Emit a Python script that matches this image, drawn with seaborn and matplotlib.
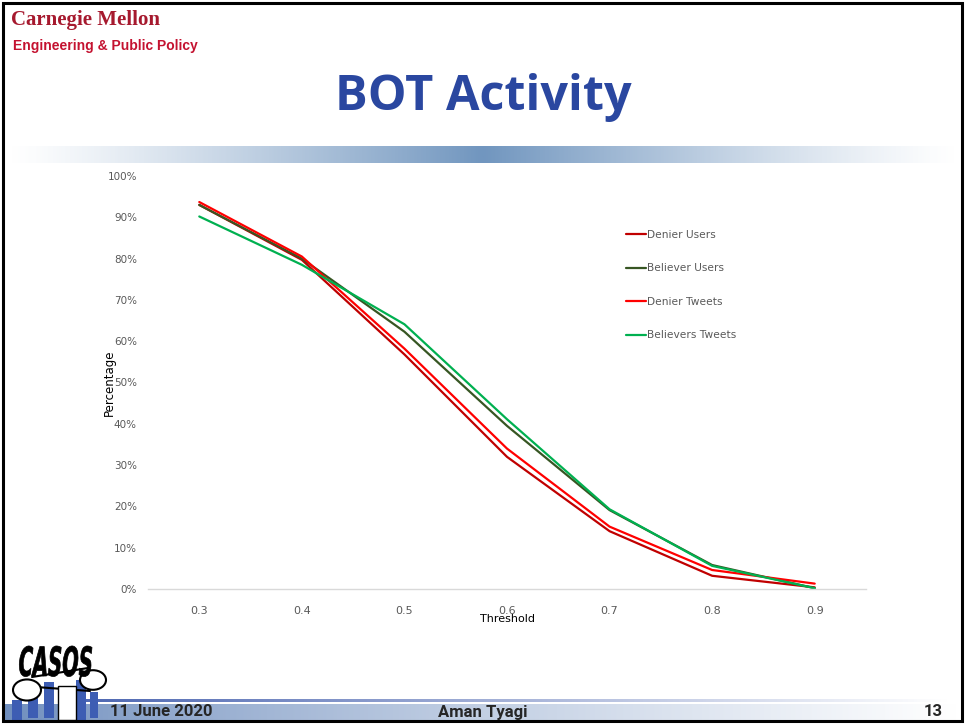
import numpy as np
import pandas as pd

import matplotlib
matplotlib.use("Agg")
import matplotlib.pyplot as plt
import seaborn as sns
from matplotlib.colors import LinearSegmentedColormap
from matplotlib.lines import Line2D
from matplotlib.patches import Rectangle, Circle, PathPatch
from matplotlib.textpath import TextPath
from matplotlib.font_manager import FontProperties
from matplotlib.transforms import Affine2D


# =========================
# DATA
# =========================

thresholds = ["0.3", "0.4", "0.5", "0.6", "0.7", "0.8", "0.9"]

denier_users = [0.930, 0.797, 0.568, 0.320, 0.140, 0.032, 0.004]
believer_users = [0.930, 0.800, 0.623, 0.395, 0.191, 0.058, 0.002]
denier_tweets = [0.937, 0.805, 0.582, 0.340, 0.151, 0.046, 0.013]
believers_tweets = [0.902, 0.785, 0.641, 0.411, 0.193, 0.056, 0.002]

series_names = ["Denier Users", "Believer Users", "Denier Tweets", "Believers Tweets"]
series_colors = ["#C00000", "#375623", "#FF0000", "#00B050"]

y_ticks = [0.0, 0.1, 0.2, 0.3, 0.4, 0.5, 0.6, 0.7, 0.8, 0.9, 1.0]
y_tick_labels = ["0%", "10%", "20%", "30%", "40%", "50%", "60%", "70%", "80%", "90%", "100%"]

df = pd.DataFrame({
    "Threshold": thresholds * 4,
    "Percentage": denier_users + believer_users + denier_tweets + believers_tweets,
    "Series": sum([[n] * len(thresholds) for n in series_names], []),
})


# =========================
# FIGURE / SLIDE
# =========================

sns.set_style("white")
plt.rcParams["font.family"] = ["DejaVu Sans"]

W, H = 965, 727
fig = plt.figure(figsize=(W / 100, H / 100), dpi=100)


def fx(px):
    return px / W


def fy(py):
    return 1 - py / H


# slide frame
fig.patches.append(Rectangle((fx(3), fy(721)), fx(959), 718 / H,
                             transform=fig.transFigure, fill=False,
                             edgecolor="black", linewidth=2.2, zorder=10))

# header
fig.text(fx(11), fy(20), "Carnegie Mellon", family="Liberation Serif",
         fontsize=15, fontweight="bold", color="#A6192E", va="center")
fig.text(fx(13), fy(46), "Engineering & Public Policy", family="Liberation Sans",
         fontsize=10, fontweight="bold", color="#C41230", va="center")
fig.text(fx(483), fy(97), "BOT Activity", family="Open Sans", fontsize=35,
         fontweight="bold", color="#2A47A0", ha="center", va="center")

# gradient band under title
band_cmap = LinearSegmentedColormap.from_list("band", ["#FFFFFF", "#7196BF"])
band = 1 - np.abs(np.linspace(-1, 1, 400))
ax_band = fig.add_axes([fx(8), fy(163), fx(950), 17 / H])
ax_band.imshow(band[np.newaxis, :] ** 1.2, aspect="auto", cmap=band_cmap, vmin=0, vmax=1)
ax_band.axis("off")

# footer bar
foot_cmap = LinearSegmentedColormap.from_list("foot", ["#6F8EBE", "#FFFFFF"])
ax_line = fig.add_axes([fx(60), fy(702), fx(890), 3 / H])
ax_line.imshow(np.linspace(0, 1, 400)[np.newaxis, :], aspect="auto",
               cmap=LinearSegmentedColormap.from_list("fl", ["#4A64B0", "#FFFFFF"]))
ax_line.axis("off")
ax_foot = fig.add_axes([fx(5), fy(720), fx(955), 16 / H])
ax_foot.imshow(np.linspace(0, 1, 400)[np.newaxis, :] ** 0.8, aspect="auto", cmap=foot_cmap)
ax_foot.axis("off")

fig.text(fx(110), fy(712), "11 June 2020", family="Roboto",
         fontsize=12, fontweight="bold", va="center")
fig.text(fx(483), fy(712), "Aman Tyagi", family="Roboto",
         fontsize=12, fontweight="bold", ha="center", va="center")
fig.text(fx(943), fy(712), "13", family="Roboto",
         fontsize=12, fontweight="bold", ha="right", va="center")

# CASOS logo (rough): tall condensed lettering
casos = TextPath((0, 0), "CASOS", size=22,
                 prop=FontProperties(family="DejaVu Sans", weight="bold"))
casos_tf = Affine2D().scale(0.89, 1.84).skew_deg(6, 0).translate(17, H - 676)
fig.patches.append(PathPatch(casos, transform=casos_tf, facecolor="black",
                             edgecolor="black", linewidth=0.5, zorder=8))
for (x0, y0, w, h) in [(12, 700, 10, 20), (28, 688, 10, 30), (44, 682, 10, 36),
                       (60, 690, 10, 28), (76, 680, 10, 40), (90, 692, 8, 26)]:
    fig.patches.append(Rectangle((fx(x0), fy(y0 + h)), fx(w), h / H,
                                 transform=fig.transFigure, facecolor="#3D5DB3",
                                 edgecolor="none", zorder=5))
fig.patches.append(Rectangle((fx(58), fy(720)), fx(18), 34 / H, transform=fig.transFigure,
                             facecolor="white", edgecolor="black", linewidth=1, zorder=6))
for (cx, cy, r) in [(27, 690, 14), (93, 680, 13)]:
    fig.patches.append(Circle((fx(cx), fy(cy)), fx(r), transform=fig.transFigure,
                              facecolor="white", edgecolor="black", linewidth=1.5, zorder=7))
fig.lines.append(Line2D([fx(32), fx(88)], [fy(677), fy(668)], transform=fig.transFigure,
                        color="black", linewidth=1.5, zorder=6))
fig.lines.append(Line2D([fx(36), fx(90)], [fy(687), fy(691)], transform=fig.transFigure,
                        color="black", linewidth=1.5, zorder=6))


# =========================
# CHART
# =========================

ax = fig.add_axes([fx(148), fy(589), fx(718), 413 / H])

sns.lineplot(
    data=df,
    x="Threshold",
    y="Percentage",
    hue="Series",
    hue_order=series_names,
    palette=series_colors,
    linewidth=1.6,
    sort=False,
    legend=False,
    ax=ax,
)

ax.set_xlim(-0.5, len(thresholds) - 0.5)
ax.set_ylim(0, 1)
ax.set_yticks(y_ticks)
ax.set_yticklabels(y_tick_labels)
ax.tick_params(axis="both", length=0, labelsize=7.5, colors="#595959")
ax.tick_params(axis="y", pad=8)
ax.tick_params(axis="x", pad=12, labelsize=8)

for side in ["top", "right", "left"]:
    ax.spines[side].set_visible(False)
ax.spines["bottom"].set_color("#D9D9D9")
ax.spines["bottom"].set_linewidth(1)

ax.set_xlabel("Threshold", fontsize=8, color="black", labelpad=-1)
ax.set_ylabel("Percentage", fontsize=8.5, color="black", labelpad=-6)

handles = [Line2D([0], [0], color=c, linewidth=1.6) for c in series_colors]
ax.legend(handles, series_names, loc="upper left", bbox_to_anchor=(0.652, 0.893),
          frameon=False, fontsize=7.7, labelcolor="#595959", labelspacing=2.2,
          handlelength=1.9, handletextpad=0.1)

plt.savefig("out.png", dpi=100)
